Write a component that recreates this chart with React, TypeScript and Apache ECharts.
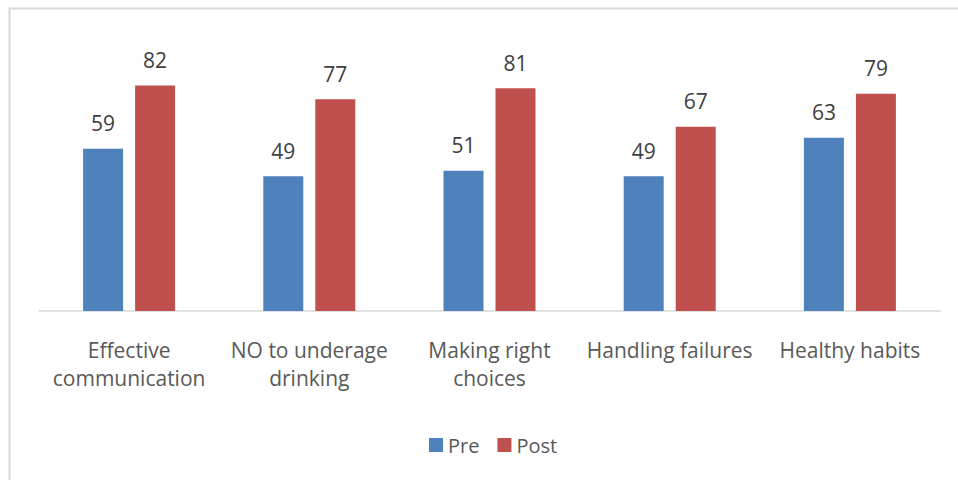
import React, { useEffect, useRef } from "react";
import * as echarts from "echarts";

const categories = [
  "Effective\ncommunication",
  "NO to underage\ndrinking",
  "Making right\nchoices",
  "Handling failures",
  "Healthy habits",
];
const preValues = [59, 49, 51, 49, 63];
const postValues = [82, 77, 81, 67, 79];

const FONT = "'Open Sans', 'Noto Sans', sans-serif";

export default function App() {
  const ref = useRef<HTMLDivElement>(null);
  useEffect(() => {
    if (!ref.current) return;
    const chart = echarts.init(ref.current, undefined, { renderer: "svg" });
    chart.setOption({
      animation: false,
      backgroundColor: "#ffffff",
      textStyle: { fontFamily: FONT },
      graphic: [
        {
          type: "rect",
          shape: { x: 9.5, y: 8.5, width: 1000, height: 600 },
          style: { fill: "none", stroke: "#d9d9d9", lineWidth: 2 },
          silent: true,
        },
      ],
      grid: { left: 39, right: 18, top: 36, bottom: 169, containLabel: false },
      legend: {
        top: 430,
        left: 424,
        itemWidth: 14,
        itemHeight: 14,
        itemGap: 18,
        icon: "rect",
        textStyle: { fontSize: 20, color: "#595959", fontFamily: FONT },
        data: ["Pre", "Post"],
      },
      xAxis: {
        type: "category",
        data: categories,
        axisLine: { lineStyle: { color: "#d9d9d9", width: 1.5 } },
        axisTick: { show: false },
        axisLabel: {
          fontSize: 21,
          color: "#595959",
          lineHeight: 28,
          margin: 25,
          interval: 0,
          fontFamily: FONT,
        },
      },
      yAxis: {
        type: "value",
        min: 0,
        max: 100,
        show: false,
        splitLine: { show: false },
      },
      series: [
        {
          name: "Pre",
          type: "bar",
          data: preValues,
          barWidth: 40,
          barGap: "30%",
          itemStyle: { color: "#4f81bd" },
          label: {
            show: true,
            position: "top",
            distance: 15,
            fontSize: 21,
            color: "#404040",
            fontFamily: FONT,
          },
        },
        {
          name: "Post",
          type: "bar",
          data: postValues,
          barWidth: 40,
          itemStyle: { color: "#c0504d" },
          label: {
            show: true,
            position: "top",
            distance: 15,
            fontSize: 21,
            color: "#404040",
            fontFamily: FONT,
          },
        },
      ],
    });
    return () => chart.dispose();
  }, []);
  return <div ref={ref} style={{ width: 958, height: 480, position: "absolute", left: 0, top: 0 }} />;
}
